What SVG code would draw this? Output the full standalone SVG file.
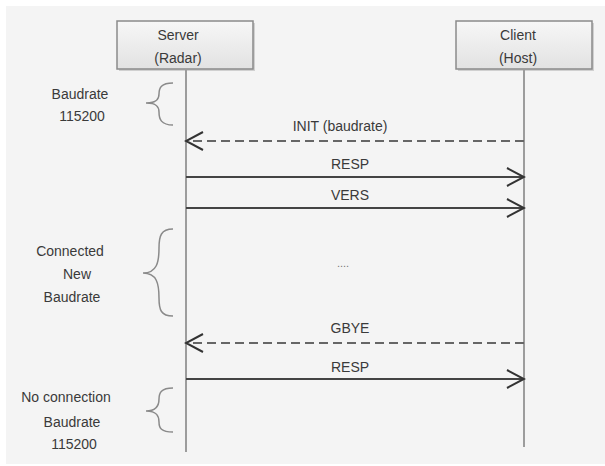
<svg xmlns="http://www.w3.org/2000/svg" width="605" height="466" viewBox="0 0 605 466">
<defs>
<linearGradient id="boxg" x1="0" y1="0" x2="0" y2="1">
<stop offset="0" stop-color="#f7f7f7"/>
<stop offset="1" stop-color="#e2e2e2"/>
</linearGradient>
<marker id="open" viewBox="0 0 20 20" refX="18" refY="10" markerWidth="20" markerHeight="20" markerUnits="userSpaceOnUse" orient="auto">
<path d="M1,1 L18,10 L1,19" fill="none" stroke="#333" stroke-width="2"/>
</marker>
</defs>
<style>
text{font-family:"Liberation Sans",Arial,sans-serif;font-size:14px;fill:#3a3a3a;text-anchor:middle}
.box{fill:url(#boxg);stroke:#8a8a8a;stroke-width:1.5}
.shadow{fill:#d0d0d0}
.life{stroke:#9c9c9c;stroke-width:2;fill:none}
.brace{fill:none;stroke:#8a8a8a;stroke-width:1.5}
.msg{stroke:#444;stroke-width:2;fill:none;marker-end:url(#open)}
.dash{stroke:#666;stroke-dasharray:9 5}
.dots{font-size:11px;fill:#777}
</style>
<rect x="0" y="0" width="605" height="466" fill="#ffffff"/>
<rect x="6" y="6" width="599" height="458" fill="#f4f4f4"/>

<g id="server">
<rect class="shadow" x="119" y="23" width="136" height="48"/>
<rect class="box" x="117" y="21" width="136" height="48"/>
<text x="178" y="40">Server</text>
<text x="178" y="63">(Radar)</text>
<line class="life" x1="186" y1="69" x2="186" y2="452"/>
</g>

<g id="client">
<rect class="shadow" x="458" y="23" width="136" height="48"/>
<rect class="box" x="456" y="21" width="136" height="48"/>
<text x="518" y="40">Client</text>
<text x="518" y="63">(Host)</text>
<line class="life" x1="524" y1="69" x2="524" y2="447"/>
</g>

<g id="state1">
<path class="brace" d="M173,83 C161,83 159,88 159,94 C159,99 157,103 146,103 C157,103 159,107 159,112 C159,119 161,125 173,125"/>
<text x="80" y="99">Baudrate</text>
<text x="82" y="121">115200</text>
</g>

<g id="state2">
<path class="brace" d="M173,229 C161,229 159,236 159,248 C159,262 157,273 143,273 C157,273 159,284 159,298 C159,310 161,316 173,316"/>
<text x="70" y="256">Connected</text>
<text x="77" y="279">New</text>
<text x="72" y="302">Baudrate</text>
<text class="dots" x="343" y="267">....</text>
</g>

<g id="state3">
<path class="brace" d="M173,388 C161,388 159,393 159,399 C159,405 157,411 146,411 C157,411 159,416 159,422 C159,428 161,432 173,432"/>
<text x="66" y="402">No connection</text>
<text x="72" y="427">Baudrate</text>
<text x="74" y="449">115200</text>
</g>

<g id="connectors">
<line class="msg dash" x1="524" y1="141" x2="186" y2="141"/>
<line class="msg" x1="186" y1="177" x2="524" y2="177"/>
<line class="msg" x1="186" y1="208" x2="524" y2="208"/>
<line class="msg dash" x1="524" y1="343" x2="186" y2="343"/>
<line class="msg" x1="186" y1="379" x2="524" y2="379"/>
<text x="340" y="131">INIT (baudrate)</text>
<text x="350" y="169">RESP</text>
<text x="350" y="200">VERS</text>
<text x="350" y="333">GBYE</text>
<text x="350" y="372">RESP</text>
</g>
</svg>
